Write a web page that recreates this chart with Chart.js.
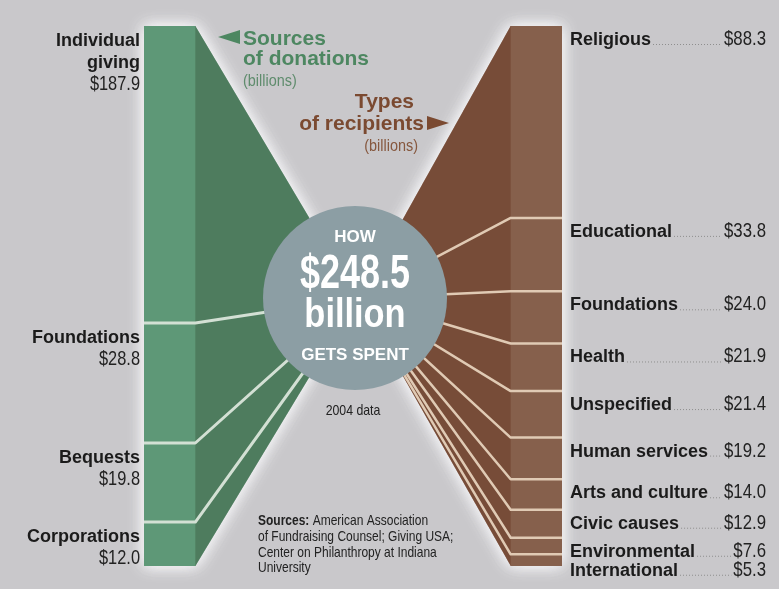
<!DOCTYPE html>
<html><head><meta charset="utf-8">
<script src="https://cdn.jsdelivr.net/npm/chart.js@4/dist/chart.umd.min.js"></script>
<style>html,body{margin:0;padding:0;background:#c9c8cb;}canvas{display:block;}</style>
</head><body>
<canvas id="c" width="779" height="589"></canvas>
<script>
// ---- data ----
const sourceNames = ['Individual\ngiving', 'Foundations', 'Bequests', 'Corporations'];
const sourceValues = [187.9, 28.8, 19.8, 12.0];
// bar lengths as drawn in the original graphic (its left column is not to scale with the labels)
const sourceBarLengths = [136.7, 55.2, 36.4, 20.2];
const recipientNames = ['Religious', 'Educational', 'Foundations', 'Health', 'Unspecified',
  'Human services', 'Arts and culture', 'Civic causes', 'Environmental', 'International'];
const recipientValues = [88.3, 33.8, 24.0, 21.9, 21.4, 19.2, 14.0, 12.9, 7.6, 5.3];
const totalGiving = 248.5;
const centerLines = ['HOW', '$248.5', 'billion', 'GETS SPENT'];
const noteLines = ['of Fundraising Counsel; Giving USA;', 'Center on Philanthropy at Indiana', 'University'];

// ---- style ----
const GREEN_BAR = '#5e9877', GREEN_FUN = '#4e7c5e', GREEN_SEP = '#d3e0d4';
const BROWN_BAR = '#86604c', BROWN_FUN = '#774c38', BROWN_SEP = '#e0cab4';
const SANS = "'Liberation Sans',Arial,sans-serif";

const datasets = [];
sourceBarLengths.forEach((v, i) => datasets.push({
  label: sourceNames[i], data: [v, null, null], backgroundColor: GREEN_BAR,
  barPercentage: 0.28, categoryPercentage: 1, borderWidth: 0
}));
recipientValues.forEach((v, i) => datasets.push({
  label: recipientNames[i], data: [null, null, v], backgroundColor: BROWN_BAR,
  barPercentage: 0.28, categoryPercentage: 1, borderWidth: 0
}));

function segments(chart, start, count, cat) {
  const out = [];
  for (let i = 0; i < count; i++) {
    const el = chart.getDatasetMeta(start + i).data[cat];
    out.push({ left: el.x - el.width / 2, right: el.x + el.width / 2,
      top: Math.min(el.y, el.base), bot: Math.max(el.y, el.base) });
  }
  return out;
}

function geometry(chart) {
  const a = chart.chartArea;
  const L = segments(chart, 0, sourceBarLengths.length, 0);
  const R = segments(chart, sourceBarLengths.length, recipientValues.length, 2);
  const cx = (L[0].right + R[0].left) / 2 + 2;
  const cy = (a.top + a.bottom) / 2 + 2;
  const band = 20;
  const mapY = py => (cy - band) + (py - a.top) / (a.bottom - a.top) * (2 * band);
  return { a, L, R, cx, cy, mapY, txL: cx - 10, txR: cx + 15, r: 92 };
}

// condensed text: draws with a horizontal squeeze, returns drawn width
function ntext(ctx, text, x, y, size, weight, align, sx) {
  ctx.save();
  ctx.font = weight + ' ' + size + 'px ' + SANS;
  ctx.textAlign = align;
  ctx.translate(x, y); ctx.scale(sx, 1);
  ctx.fillText(text, 0, 0);
  const w = ctx.measureText(text).width * sx;
  ctx.restore();
  return w;
}

const funnelPlugin = {
  id: 'funnel',
  beforeDatasetsDraw(chart) {
    const g = geometry(chart), ctx = chart.ctx;
    const draw = (segs, isLeft, color, tx) => {
      const top = segs[0].top, bot = segs[segs.length - 1].bot;
      const xl = segs[0].left, xr = segs[0].right;
      ctx.save();
      ctx.shadowColor = 'rgba(248,248,250,0.95)';
      ctx.shadowBlur = 16;
      ctx.fillStyle = color;
      ctx.beginPath();
      if (isLeft) {
        ctx.moveTo(xl, top); ctx.lineTo(xr, top); ctx.lineTo(tx, g.mapY(top));
        ctx.lineTo(tx, g.mapY(bot)); ctx.lineTo(xr, bot); ctx.lineTo(xl, bot);
      } else {
        ctx.moveTo(xr, top); ctx.lineTo(xl, top); ctx.lineTo(tx, g.mapY(top));
        ctx.lineTo(tx, g.mapY(bot)); ctx.lineTo(xl, bot); ctx.lineTo(xr, bot);
      }
      ctx.closePath(); ctx.fill(); ctx.fill();
      ctx.restore();
    };
    draw(g.L, true, GREEN_FUN, g.txL);
    draw(g.R, false, BROWN_FUN, g.txR);
  },
  afterDatasetsDraw(chart) {
    const g = geometry(chart), ctx = chart.ctx;
    ctx.save();
    ctx.lineJoin = 'round';
    ctx.strokeStyle = GREEN_SEP;
    g.L.forEach((s, i) => {
      if (i === 0) return;
      ctx.lineWidth = 3;
      ctx.beginPath(); ctx.moveTo(s.left, s.top); ctx.lineTo(s.right, s.top);
      ctx.lineTo(g.txL, g.mapY(s.top)); ctx.stroke();
    });
    ctx.strokeStyle = BROWN_SEP;
    g.R.forEach((s, i) => {
      if (i === 0) return;
      ctx.lineWidth = 2.5;
      ctx.beginPath(); ctx.moveTo(s.right, s.top); ctx.lineTo(s.left, s.top);
      ctx.lineTo(g.txR, g.mapY(s.top)); ctx.stroke();
    });
    ctx.restore();
  },
  afterDraw(chart) {
    const g = geometry(chart), ctx = chart.ctx;
    ctx.save();
    // center circle
    ctx.fillStyle = '#8c9ea4';
    ctx.beginPath(); ctx.arc(g.cx, g.cy, g.r, 0, Math.PI * 2); ctx.fill();
    ctx.fillStyle = '#ffffff'; ctx.textBaseline = 'alphabetic';
    ntext(ctx, centerLines[0], g.cx, g.cy - 56, 17, 'bold', 'center', 1);
    ntext(ctx, centerLines[1], g.cx, g.cy - 10, 48, 'bold', 'center', 0.75);
    ntext(ctx, centerLines[2], g.cx, g.cy + 29, 40, 'bold', 'center', 0.86);
    ntext(ctx, centerLines[3], g.cx, g.cy + 62, 17, 'bold', 'center', 1);
    ctx.fillStyle = '#222';
    ntext(ctx, '2004 data', g.cx - 2, 415, 15, 'normal', 'center', 0.82);

    // left labels
    const lx = g.L[0].left - 4;
    g.L.forEach((s, i) => {
      let y = s.top + 20;
      ctx.fillStyle = '#1b1b1b';
      sourceNames[i].split('\n').forEach(line => { ntext(ctx, line, lx, y, 18, 'bold', 'right', 1); y += 22; });
      ctx.fillStyle = '#222';
      ntext(ctx, '$' + sourceValues[i].toFixed(1), lx, y, 21, 'normal', 'right', 0.78);
    });

    // right labels
    const n = g.R.length, rx = g.R[0].right + 8, vx = 766;
    const ys = g.R.map(s => s.top + 19);
    for (let i = 1; i < n; i++) ys[i] = Math.max(ys[i], ys[i - 1] + 19);
    ys[n - 1] = Math.min(ys[n - 1], g.a.bottom + 10);
    for (let i = n - 2; i >= 0; i--) ys[i] = Math.min(ys[i], ys[i + 1] - 19);
    g.R.forEach((s, i) => {
      const y = ys[i];
      ctx.fillStyle = '#1b1b1b';
      const nw = ntext(ctx, recipientNames[i], rx, y, 18, 'bold', 'left', 1);
      ctx.fillStyle = '#222';
      const vw = ntext(ctx, '$' + recipientValues[i].toFixed(1), vx, y, 21, 'normal', 'right', 0.8);
      ctx.save();
      ctx.strokeStyle = '#8e8e8e'; ctx.lineWidth = 1; ctx.setLineDash([1, 2]);
      ctx.beginPath(); ctx.moveTo(rx + nw + 2, y - 0.5); ctx.lineTo(vx - vw - 2, y - 0.5); ctx.stroke();
      ctx.restore();
    });

    // headings
    const GT = '#4d8761', BT = '#7b4a31';
    ctx.fillStyle = GT;
    ctx.beginPath(); ctx.moveTo(218, 37); ctx.lineTo(240, 30); ctx.lineTo(240, 44); ctx.closePath(); ctx.fill();
    ntext(ctx, 'Sources', 243, 45, 21, 'bold', 'left', 1);
    ntext(ctx, 'of donations', 243, 65, 21, 'bold', 'left', 1);
    ctx.fillStyle = '#5f8c6d';
    ntext(ctx, '(billions)', 243, 86, 17, 'normal', 'left', 0.85);
    ctx.fillStyle = BT;
    ntext(ctx, 'Types', 414, 108, 21, 'bold', 'right', 1);
    ntext(ctx, 'of recipients', 424, 130, 21, 'bold', 'right', 1);
    ctx.beginPath(); ctx.moveTo(427, 116); ctx.lineTo(427, 130); ctx.lineTo(449, 123); ctx.closePath(); ctx.fill();
    ctx.fillStyle = '#86583f';
    ntext(ctx, '(billions)', 418, 151, 17, 'normal', 'right', 0.85);

    // source note
    ctx.fillStyle = '#222';
    const sw = ntext(ctx, 'Sources: ', 258, 525, 15, 'bold', 'left', 0.8);
    ntext(ctx, 'American Association', 258 + sw, 525, 15, 'normal', 'left', 0.8);
    noteLines.forEach((t, i) => ntext(ctx, t, 258, 541 + i * 15.5, 15, 'normal', 'left', 0.8));
    ctx.restore();
  }
};

new Chart(document.getElementById('c'), {
  type: 'bar',
  data: { labels: ['Sources', '', 'Recipients'], datasets },
  options: {
    responsive: false, animation: false, devicePixelRatio: 1,
    layout: { padding: { left: 78, right: 151, top: 26, bottom: 23 } },
    scales: {
      x: { stacked: true, display: false },
      y: { stacked: true, display: false, reverse: true, min: 0, max: totalGiving }
    },
    plugins: { legend: { display: false }, tooltip: { enabled: false } }
  },
  plugins: [funnelPlugin]
});
</script>
</body></html>
